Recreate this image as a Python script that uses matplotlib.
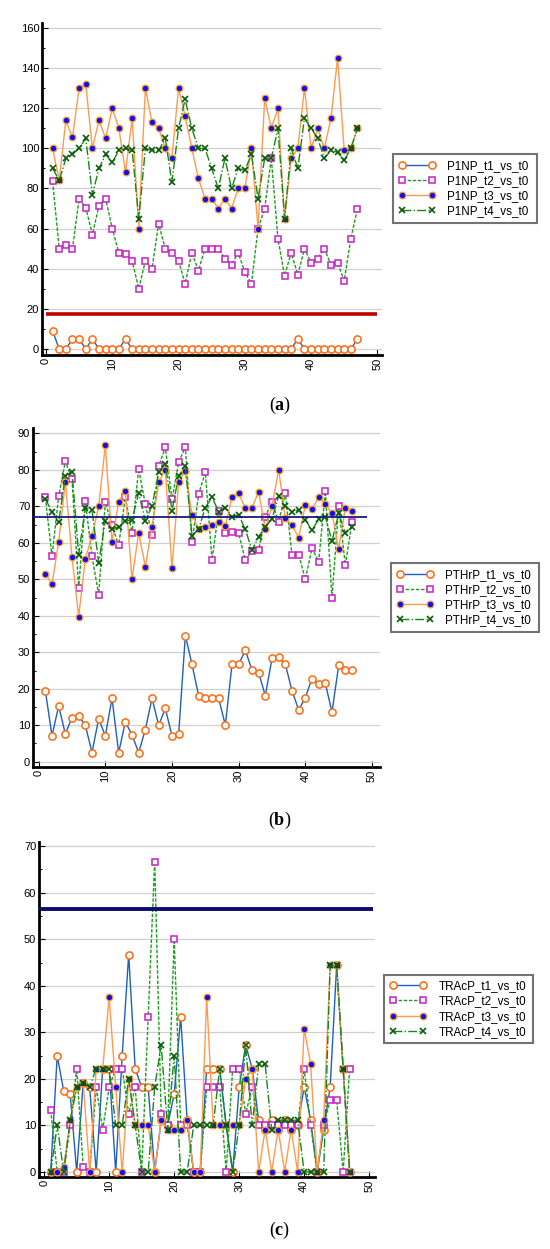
import matplotlib
matplotlib.use("Agg")
import matplotlib.pyplot as plt
from matplotlib.ticker import MultipleLocator, AutoMinorLocator

plt.rcParams['font.family'] = ['Liberation Sans', 'DejaVu Sans']
plt.rcParams['mathtext.fontset'] = 'custom'
plt.rcParams['mathtext.rm'] = 'Liberation Serif'
plt.rcParams['mathtext.bf'] = 'Liberation Serif:bold'

x = list(range(1, 48))

# ---- Panel (a) P1NP ----
a_t1 = [9, 0, 0, 5, 5, 0, 5, 0, 0, 0, 0, 5, 0, 0, 0, 0, 0, 0, 0, 0,
        0, 0, 0, 0, 0, 0, 0, 0, 0, 0, 0, 0, 0, 0, 0, 0, 0, 5, 0, 0,
        0, 0, 0, 0, 0, 0, 5]
a_t2 = [83.5, 50, 52, 50, 75, 70.5, 57, 71.5, 75, 60, 48, 47.5, 44, 30, 44, 40, 62.5, 50, 48, 44,
        32.5, 48, 39, 50, 50, 50, 45, 42, 48, 38.5, 32.5, 60, 70, 95, 55, 36.5, 48, 37, 50, 43,
        45, 50, 42, 43, 34, 55, 70]
a_t3 = [100, 84, 114, 105.5, 130, 132, 100, 114, 105, 120, 110, 88, 115, 60, 130, 113, 110, 100, 95, 130,
        116, 100, 85, 75, 75, 70, 75, 70, 80, 80, 100, 60, 125, 110, 120, 65, 95, 100, 130, 100,
        110, 100, 115, 145, 99, 100, 110]
a_t4 = [90, 84, 95, 97, 100, 105, 77, 90, 97, 93, 99, 100, 99, 65, 100, 99, 99, 105, 83, 110,
        124.5, 110, 100, 100, 90, 80, 95, 80, 90, 89, 97, 75, 95, 95, 110, 65, 100, 90, 115, 110,
        105, 95, 99, 98, 94, 100, 110]
a_ref = 17.2
a_labels = ['P1NP_t1_vs_t0', 'P1NP_t2_vs_t0', 'P1NP_t3_vs_t0', 'P1NP_t4_vs_t0']

# ---- Panel (b) PTHrP ----
b_t1 = [19.5, 7.1, 15.3, 7.6, 12.1, 12.6, 10, 2.5, 11.8, 7.1, 17.4, 2.5, 10.9, 7.4, 2.5, 8.8, 17.4, 10, 14.6, 7.1,
        7.6, 34.6, 26.7, 18.1, 17.4, 17.4, 17.4, 10, 26.7, 26.7, 30.6, 25.1, 24.4, 18.1, 28.3, 28.8, 26.7, 19.5, 14.2, 17.6,
        22.8, 21.3, 21.5, 13.6, 26.4, 25.1, 25.1]
b_t2 = [72.5, 56.3, 72.8, 82.4, 77.5, 47.6, 71.4, 56.3, 45.8, 71.2, 64.9, 59.3, 72.6, 62.6, 80.3, 70.6, 62.1, 81, 86.2, 71.9,
        82.1, 86.3, 60.2, 73.4, 79.3, 55.3, 68.8, 62.6, 63.1, 62.6, 55.3, 57.8, 58, 67.2, 71.3, 65.6, 73.6, 56.6, 56.8, 50,
        58.6, 54.8, 74.1, 44.9, 70, 53.9, 65.6]
b_t3 = [51.6, 48.6, 60.2, 76.8, 56.1, 39.8, 55.6, 61.9, 70, 86.8, 60.2, 71.3, 74.2, 50, 62.8, 53.5, 64.4, 76.6, 80, 53,
        76.8, 79.7, 67.6, 63.9, 64.3, 64.9, 65.6, 64.6, 72.6, 73.6, 69.5, 69.7, 74, 63.8, 70.1, 80, 66.7, 64.9, 61.4, 70.4,
        69.2, 72.6, 70.7, 68.1, 58.2, 69.5, 68.8]
b_t4 = [72, 68.6, 65.7, 78.3, 79.5, 56.8, 69.7, 69, 54.6, 66, 63.7, 64.4, 66, 66.3, 73.7, 66, 70.1, 79.3, 81.7, 68.8,
        78.4, 81, 62, 63.8, 69.7, 72.5, 68.6, 69.7, 67.2, 67.7, 63.7, 58, 61.7, 64.4, 66.6, 72.9, 70.1, 68.6, 69, 66.3,
        63.5, 66.5, 67.2, 60.5, 68.1, 62.6, 64.3]
b_ref = 67.0
b_labels = ['PTHrP_t1_vs_t0', 'PTHrP_t2_vs_t0', 'PTHrP_t3_vs_t0', 'PTHrP_t4_vs_t0']

# ---- Panel (c) TRAcP ----
c_t1 = [0, 25, 17.4, 16.7, 0, 19.2, 18.2, 0, 22.2, 22.2, 0, 25, 46.7, 22.2, 18.2, 18.2, 0, 11.1, 10, 16.7,
        33.3, 11.1, 0, 0, 22.2, 22.2, 22.2, 10, 0, 18.2, 27.3, 22.2, 11.1, 9.1, 11.1, 9.1, 11.1, 9.1, 10, 18.2,
        11.1, 0, 9.1, 18.2, 44.4, 22.2, 0]
c_t2 = [13.3, 0, 0, 10, 22.2, 1.1, 0, 18.2, 9.1, 18.2, 22.2, 22.2, 12.5, 18.2, 0, 33.3, 66.7, 12.5, 10, 50,
        10, 10, 0, 0, 18.2, 18.2, 18.2, 0, 22.2, 22.2, 12.5, 18.2, 10, 10, 10, 10, 10, 10, 10, 22.2,
        10, 0, 10, 15.4, 15.4, 0, 22.2]
c_t3 = [0, 0, 1.1, 11.1, 18.2, 19.2, 0, 22.2, 22.2, 37.5, 18.2, 0, 20, 10, 10, 10, 0, 11.1, 9.1, 9.1,
        9.1, 11.1, 0, 0, 37.5, 10, 10, 10, 10, 10, 20, 22.2, 0, 9.1, 0, 9.1, 0, 9.1, 0, 30.8,
        23.1, 0, 11.1, 44.4, 44.4, 22.2, 0]
c_t4 = [0, 10, 0, 11.1, 18.2, 19.2, 18.2, 22.2, 22.2, 22.2, 10, 10, 20, 10, 0, 0, 18.2, 27.3, 9.1, 25,
        0, 0, 10, 10, 10, 10, 22.2, 10, 0, 10, 27.3, 10, 23.1, 23.1, 9.1, 11.1, 11.1, 11.1, 11.1, 0,
        0, 0, 0, 44.4, 44.4, 22.2, 0]
c_ref = 56.4
c_labels = ['TRAcP_t1_vs_t0', 'TRAcP_t2_vs_t0', 'TRAcP_t3_vs_t0', 'TRAcP_t4_vs_t0']

W, H = 550, 1249
fig = plt.figure(figsize=(W / 100, H / 100), dpi=100)


def rect(l, t, r, b):
    return [l / W, 1 - b / H, (r - l) / W, (b - t) / H]


styles = [
    dict(color='#1f5fc0', linestyle='-', linewidth=1.0, marker='o', markersize=5.2,
         markerfacecolor='white', markeredgecolor='#ff6a10', markeredgewidth=1.1),
    dict(color='#1aa01a', linestyle='--', linewidth=1.0, dashes=(2.5, 1.2), marker='s', markersize=5.0,
         markerfacecolor='white', markeredgecolor='#c81ec8', markeredgewidth=1.1),
    dict(color='#ff9a50', linestyle='-', linewidth=1.0, marker='o', markersize=4.8,
         markerfacecolor='#1010ee', markeredgecolor='#ffa030', markeredgewidth=0.9),
    dict(color='#138a13', linestyle='-.', linewidth=1.0, marker='x', markersize=4.5,
         markeredgecolor='#0a5a0a', markeredgewidth=1.2),
]


def panel(r, series, labels, xlim, ylim, ymaj, ref, ref_x, ref_color, ref_lw, leg_rect, tag, tag_y):
    ax = fig.add_axes(rect(*r))
    for s, lab, st in zip(series, labels, styles):
        ax.plot(x, s, label=lab, zorder=3, **st)
    ax.plot(ref_x, [ref, ref], color=ref_color, linewidth=ref_lw, zorder=4, solid_capstyle='butt')
    ax.set_xlim(*xlim)
    ax.set_ylim(*ylim)
    ax.xaxis.set_major_locator(MultipleLocator(10))
    ax.yaxis.set_major_locator(MultipleLocator(ymaj))
    ax.yaxis.set_minor_locator(AutoMinorLocator(2))
    ax.grid(axis='y', which='major', color='#d0d0d0', linewidth=0.9, zorder=0)
    ax.set_axisbelow(True)
    for sp in ['top', 'right']:
        ax.spines[sp].set_visible(False)
    for sp in ['left', 'bottom']:
        ax.spines[sp].set_linewidth(2.0)
    ax.tick_params(axis='both', which='major', direction='in', length=4, width=0.8, labelsize=8, pad=2)
    ax.tick_params(axis='y', which='minor', direction='in', length=2.5, width=0.7)
    ax.tick_params(axis='x', labelrotation=90)
    lax = fig.add_axes(rect(*leg_rect))
    lax.axis('off')
    h, l = ax.get_legend_handles_labels()
    leg = lax.legend(h, l, loc='center', fontsize=8.4, frameon=True, fancybox=False,
                     edgecolor='#505050', numpoints=2, handlelength=3.2, handletextpad=1.0,
                     labelspacing=0.28, borderpad=0.45, borderaxespad=0, mode='expand')
    leg.get_frame().set_linewidth(1.5)
    fig.text(280 / W, 1 - tag_y / H, r'($\mathbf{%s}$)' % tag,
             ha='center', va='center', fontsize=13, family='Liberation Serif')
    return ax


panel((42, 23, 382, 355), [a_t1, a_t2, a_t3, a_t4], a_labels,
      (-0.6, 50.7), (-3.0, 162.5), 20, a_ref, [0, 50], '#c00000', 2.6,
      (393, 159, 537, 218), 'a', 405)

panel((33, 428, 380, 767), [b_t1, b_t2, b_t3, b_t4], b_labels,
      (-0.85, 51.2), (-1.45, 91.5), 10, b_ref, [-0.85, 49.2], '#1a1a80', 1.3,
      (391, 567, 539, 628), 'b', 820)

panel((39, 842, 375, 1177), [c_t1, c_t2, c_t3, c_t4], c_labels,
      (-0.8, 50.9), (-1.1, 70.9), 10, c_ref, [-0.8, 50.6], '#0a0a70', 2.8,
      (384, 979, 533, 1039), 'c', 1230)

fig.savefig('out.png', dpi=100, facecolor='white')
